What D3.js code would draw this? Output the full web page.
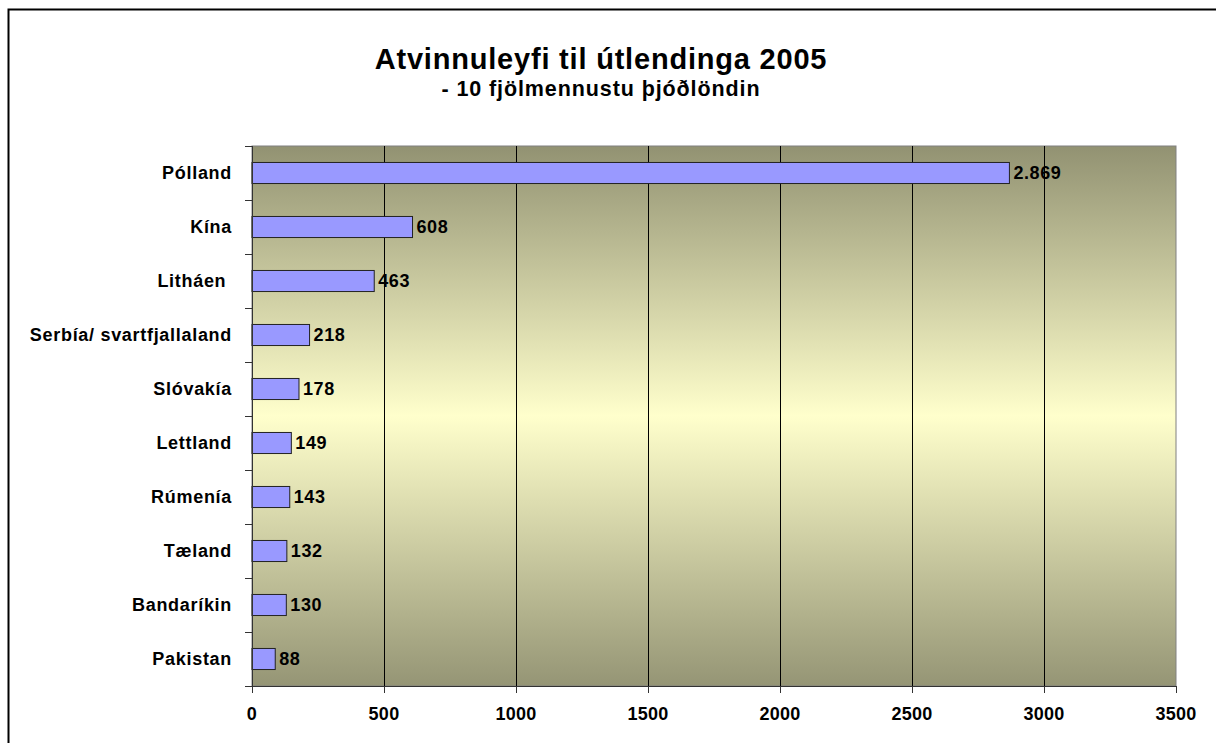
<!DOCTYPE html>
<html>
<head>
<meta charset="utf-8">
<script src="https://cdn.jsdelivr.net/npm/d3@7"></script>
<style>
  body { margin: 0; background: #fff; }
  text { font-family: Arial, "Liberation Sans", sans-serif; font-weight: bold; fill: #000; }
</style>
</head>
<body>
<div id="chart"></div>
<script>
// data
var countries = ["Pólland", "Kína", "Litháen ", "Serbía/ svartfjallaland", "Slóvakía",
                 "Lettland", "Rúmenía", "Tæland", "Bandaríkin", "Pakistan"];
var permits = [2869, 608, 463, 218, 178, 149, 143, 132, 130, 88];
var valueLabels = ["2.869", "608", "463", "218", "178", "149", "143", "132", "130", "88"];
var xTicks = [0, 500, 1000, 1500, 2000, 2500, 3000, 3500];

var width = 1216,
    height = 743;
var plot = {left: 252, top: 146, right: 1176, bottom: 686};

var svg = d3.select("#chart")
  .append("svg")
    .attr("width", width)
    .attr("height", height);

// outer frame (runs off the right and bottom edge)
svg.append("rect")
  .attr("x", 8.5)
  .attr("y", 9.5)
  .attr("width", 1240)
  .attr("height", 760)
  .attr("fill", "#fff")
  .attr("stroke", "#000")
  .attr("stroke-width", 2);

// background gradient of the plot area
var grad = svg.append("defs")
  .append("linearGradient")
    .attr("id", "bg")
    .attr("x1", 0).attr("y1", 0)
    .attr("x2", 0).attr("y2", 1);
grad.append("stop").attr("offset", "0%").attr("stop-color", "#929272");
grad.append("stop").attr("offset", "50%").attr("stop-color", "#ffffcc");
grad.append("stop").attr("offset", "100%").attr("stop-color", "#959575");

var x = d3.scaleLinear()
  .domain([0, 3500])
  .range([plot.left, plot.right]);

var y = d3.scaleBand()
  .domain(countries)
  .range([plot.top, plot.bottom])
  .paddingInner(0.61)
  .paddingOuter(0.305);

var band = (plot.bottom - plot.top) / countries.length;

svg.append("rect")
  .attr("x", plot.left)
  .attr("y", plot.top)
  .attr("width", plot.right - plot.left)
  .attr("height", plot.bottom - plot.top)
  .attr("fill", "url(#bg)")
  .attr("stroke", "#808080")
  .attr("stroke-width", 1);

// vertical gridlines
svg.selectAll("allGrid")
  .data(xTicks.slice(1, -1))
  .enter()
  .append("line")
    .attr("x1", function(d) { return Math.round(x(d)) + 0.5; })
    .attr("x2", function(d) { return Math.round(x(d)) + 0.5; })
    .attr("y1", plot.top)
    .attr("y2", plot.bottom)
    .attr("stroke", "#000")
    .attr("stroke-width", 1);

// bars
svg.selectAll("allBars")
  .data(permits)
  .enter()
  .append("rect")
    .attr("x", x(0))
    .attr("y", function(d, i) { return y(countries[i]); })
    .attr("width", function(d) { return x(d) - x(0); })
    .attr("height", y.bandwidth())
    .attr("fill", "#9999ff")
    .attr("stroke", "#222")
    .attr("stroke-width", 1);

// value labels
svg.selectAll("allValues")
  .data(permits)
  .enter()
  .append("text")
    .attr("x", function(d) { return x(d) + 4; })
    .attr("y", function(d, i) { return y(countries[i]) + y.bandwidth() / 2; })
    .attr("dy", "0.35em")
    .style("font-size", "18px")
    .style("letter-spacing", "0.6px")
    .text(function(d, i) { return valueLabels[i]; });

// left axis
var yAxis = svg.append("g")
  .attr("transform", "translate(" + plot.left + ",0)");
yAxis.append("line")
  .attr("x1", 0.5).attr("x2", 0.5)
  .attr("y1", plot.top).attr("y2", plot.bottom + 7)
  .attr("stroke", "#333");
yAxis.selectAll("allYTicks")
  .data(d3.range(countries.length + 1))
  .enter()
  .append("line")
    .attr("x1", -7).attr("x2", 0)
    .attr("y1", function(d) { return Math.round(plot.top + d * band) + 0.5; })
    .attr("y2", function(d) { return Math.round(plot.top + d * band) + 0.5; })
    .attr("stroke", "#333");
yAxis.selectAll("allYLabels")
  .data(countries)
  .enter()
  .append("text")
    .attr("x", -20)
    .attr("y", function(d) { return y(d) + y.bandwidth() / 2; })
    .attr("dy", "0.35em")
    .style("text-anchor", "end")
    .style("white-space", "pre") // keep the trailing space of "Litháen "
    .style("font-size", "18px")
    .style("letter-spacing", "0.7px")
    .text(function(d) { return d; });

// bottom axis
var xAxis = svg.append("g")
  .attr("transform", "translate(0," + plot.bottom + ")");
xAxis.append("line")
  .attr("x1", plot.left - 7).attr("x2", plot.right)
  .attr("y1", 0.5).attr("y2", 0.5)
  .attr("stroke", "#333");
xAxis.selectAll("allXTicks")
  .data(xTicks)
  .enter()
  .append("line")
    .attr("x1", function(d) { return Math.round(x(d)) + 0.5; })
    .attr("x2", function(d) { return Math.round(x(d)) + 0.5; })
    .attr("y1", 0).attr("y2", 7)
    .attr("stroke", "#333");
xAxis.selectAll("allXLabels")
  .data(xTicks)
  .enter()
  .append("text")
    .attr("x", function(d) { return x(d); })
    .attr("y", 34)
    .style("text-anchor", "middle")
    .style("font-size", "18px")
    .style("letter-spacing", "0.3px")
    .text(function(d) { return d; });

// titles
svg.append("text")
  .attr("x", 601)
  .attr("y", 69)
  .style("text-anchor", "middle")
  .style("font-size", "29px")
  .style("letter-spacing", "0.8px")
  .text("Atvinnuleyfi til útlendinga 2005");
svg.append("text")
  .attr("x", 601)
  .attr("y", 96)
  .style("text-anchor", "middle")
  .style("font-size", "21.5px")
  .style("letter-spacing", "0.9px")
  .text("- 10 fjölmennustu þjóðlöndin");
</script>
</body>
</html>
